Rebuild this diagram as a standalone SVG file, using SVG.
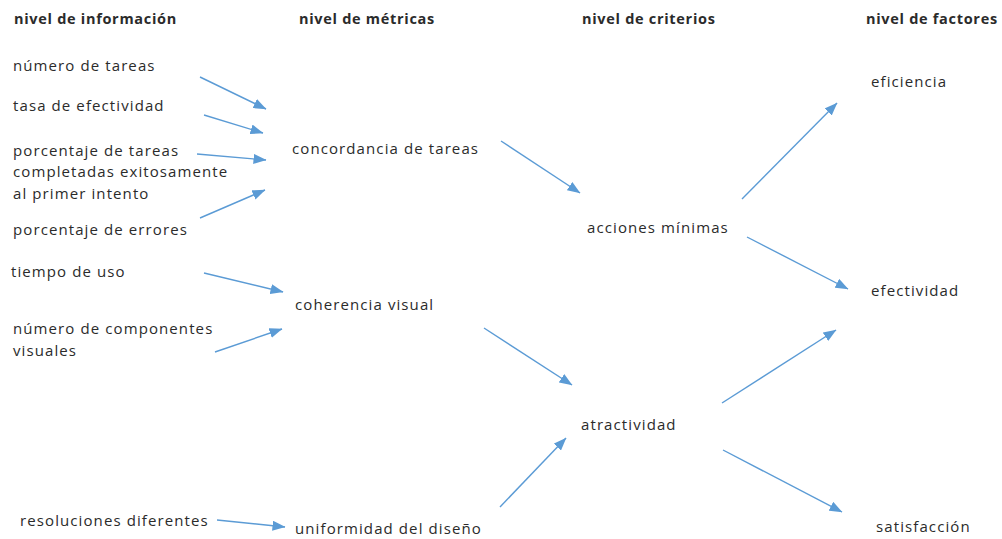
<svg xmlns="http://www.w3.org/2000/svg" width="1002" height="539" viewBox="0 0 1002 539">
<style>
text{font-family:"Open Sans","Noto Sans","DejaVu Sans",sans-serif;font-size:15px;letter-spacing:1.1px;fill:#2b2b2b}
.h{font-weight:bold;font-size:14.5px;letter-spacing:0.7px}
.c line{stroke:#5b9bd5;stroke-width:1.4;marker-end:url(#a)}
</style>
<defs>
<marker id="a" markerUnits="userSpaceOnUse" markerWidth="13" markerHeight="10" viewBox="0 0 13 10" refX="12.5" refY="5" orient="auto">
<path d="M0,0 L13,5 L0,10 Z" fill="#5b9bd5"/>
</marker>
</defs>
<rect width="1002" height="539" fill="#fff"/>
<g id="headers">
<text class="h" x="14" y="24">nivel de información</text>
<text class="h" x="299" y="24">nivel de métricas</text>
<text class="h" x="582" y="24">nivel de criterios</text>
<text class="h" x="866" y="24">nivel de factores</text>
</g>
<g id="n-numero-tareas"><text x="13" y="71">número de tareas</text></g>
<g id="n-tasa"><text x="13" y="111">tasa de efectividad</text></g>
<g id="n-porcentaje-tareas"><text x="13" y="156">porcentaje de tareas</text><text x="13" y="177">completadas exitosamente</text><text x="13" y="199">al primer intento</text></g>
<g id="n-errores"><text x="13" y="235">porcentaje de errores</text></g>
<g id="n-tiempo"><text x="11" y="277">tiempo de uso</text></g>
<g id="n-componentes"><text x="13" y="334">número de componentes</text><text x="13" y="356">visuales</text></g>
<g id="n-resoluciones"><text x="20" y="526">resoluciones diferentes</text></g>
<g id="n-concordancia"><text x="292" y="154">concordancia de tareas</text></g>
<g id="n-coherencia"><text x="295" y="310">coherencia visual</text></g>
<g id="n-uniformidad"><text x="295" y="534">uniformidad del diseño</text></g>
<g id="n-acciones"><text x="587" y="233">acciones mínimas</text></g>
<g id="n-atractividad"><text x="581" y="430">atractividad</text></g>
<g id="n-eficiencia"><text x="871" y="87">eficiencia</text></g>
<g id="n-efectividad"><text x="871" y="296">efectividad</text></g>
<g id="n-satisfaccion"><text x="876" y="532">satisfacción</text></g>
<g id="connectors" class="c">
<line x1="200" y1="77" x2="266" y2="109"/>
<line x1="204" y1="115" x2="263" y2="133"/>
<line x1="197" y1="154" x2="266" y2="160"/>
<line x1="200" y1="218" x2="265" y2="190"/>
<line x1="204" y1="273" x2="283" y2="292"/>
<line x1="215" y1="352" x2="282" y2="329"/>
<line x1="217" y1="520" x2="285" y2="527"/>
<line x1="501" y1="141" x2="580" y2="193"/>
<line x1="742" y1="199" x2="837" y2="103"/>
<line x1="747" y1="237" x2="848" y2="289"/>
<line x1="484" y1="328" x2="572" y2="385"/>
<line x1="500" y1="507" x2="566" y2="438"/>
<line x1="722" y1="403" x2="836" y2="330"/>
<line x1="723" y1="450" x2="842" y2="512"/>
</g>
</svg>
